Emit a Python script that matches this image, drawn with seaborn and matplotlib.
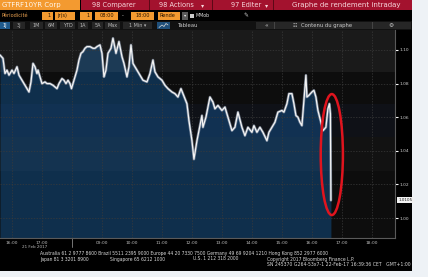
import matplotlib
matplotlib.use("Agg")
import matplotlib.pyplot as plt
import seaborn as sns
import pandas as pd
from matplotlib.patches import Rectangle, Ellipse
from matplotlib.lines import Line2D

# ---------------- data ----------------
security = "GTFRF10YR Corp"
title = "Graphe de rendement intraday"
prev_date = "21 Feb 2017"

times_prev = ["15:36", "15:42", "15:46", "15:50", "15:54", "16:00", "16:04", "16:10",
              "16:14", "16:20", "16:26", "16:30", "16:34", "16:38", "16:42", "16:46",
              "16:50", "16:52", "16:56", "17:00", "17:06", "17:10", "17:16", "17:22",
              "17:30", "17:34", "17:40", "17:44", "17:48", "17:52", "17:56", "17:59"]
yields_prev = [1.097, 1.095, 1.086, 1.088, 1.085, 1.088, 1.086, 1.090,
               1.085, 1.082, 1.079, 1.077, 1.075, 1.081, 1.092, 1.090,
               1.086, 1.088, 1.084, 1.080, 1.081, 1.080, 1.080, 1.079,
               1.077, 1.080, 1.083, 1.082, 1.080, 1.082, 1.080, 1.077]

times_today = ["08:04", "08:10", "08:14", "08:18", "08:22", "08:26", "08:30", "08:36",
               "08:42", "08:46", "08:50", "08:56", "09:00", "09:04", "09:08", "09:12",
               "09:18", "09:22", "09:28", "09:34", "09:40", "09:44", "09:50", "09:54",
               "09:58", "10:02", "10:10", "10:16", "10:22", "10:30", "10:36", "10:42",
               "10:46", "10:52", "11:00", "11:06", "11:12", "11:20", "11:26", "11:32",
               "11:38", "11:42", "11:50", "11:54", "12:00", "12:04", "12:10", "12:14",
               "12:20", "12:22", "12:28", "12:32", "12:36", "12:42", "12:46", "12:52",
               "13:00", "13:06", "13:12", "13:20", "13:26", "13:32", "13:40", "13:46",
               "13:52", "14:00", "14:04", "14:10", "14:16", "14:22", "14:30", "14:34",
               "14:40", "14:46", "14:52", "15:00", "15:04", "15:10", "15:14", "15:20",
               "15:24", "15:28", "15:32", "15:36", "15:40", "15:44", "15:48", "15:50",
               "15:54", "16:00", "16:04", "16:08", "16:12", "16:18", "16:22", "16:28",
               "16:32", "16:35", "16:37", "16:38"]
yields_today = [1.082, 1.088, 1.094, 1.098, 1.099, 1.101, 1.102, 1.102,
                1.101, 1.101, 1.102, 1.103, 1.098, 1.084, 1.088, 1.098,
                1.101, 1.107, 1.098, 1.105, 1.096, 1.092, 1.084, 1.090,
                1.103, 1.092, 1.088, 1.085, 1.082, 1.081, 1.086, 1.094,
                1.087, 1.084, 1.082, 1.079, 1.077, 1.075, 1.074, 1.072,
                1.077, 1.074, 1.068, 1.058, 1.046, 1.035, 1.046, 1.052,
                1.061, 1.054, 1.060, 1.066, 1.072, 1.069, 1.065, 1.067,
                1.064, 1.066, 1.060, 1.052, 1.054, 1.063, 1.054, 1.049,
                1.054, 1.051, 1.055, 1.051, 1.054, 1.051, 1.046, 1.051,
                1.054, 1.057, 1.063, 1.064, 1.063, 1.068, 1.074, 1.074,
                1.068, 1.061, 1.060, 1.057, 1.055, 1.070, 1.085, 1.072,
                1.073, 1.075, 1.076, 1.072, 1.064, 1.057, 1.052, 1.054,
                1.065, 1.068, 1.062, 1.0105]

y_ticks = [1.00, 1.02, 1.04, 1.06, 1.08, 1.10]
xlabels_prev = ["16:00", "17:00"]
xlabels_today = ["09:00", "10:00", "11:00", "12:00", "13:00", "14:00",
                 "15:00", "16:00", "17:00", "18:00"]

footer1 = ("Australia 61 2 9777 8600 Brazil 5511 2395 9000 Europe 44 20 7330 7500 "
           "Germany 49 69 9204 1210 Hong Kong 852 2977 6000")
footer2a = "Japan 81 3 3201 8900"
footer2b = "Singapore 65 6212 1000"
footer2c = "U.S. 1 212 318 2000"
footer2d = "Copyright 2017 Bloomberg Finance L.P."
footer3 = "SN 245370 G264-53x7-1 22-Feb-17 16:39:36 CET   GMT+1:00"


def session(t, offset):
    h, m = t.split(":")
    return int(h) + int(m) / 60 - offset


df = pd.DataFrame({
    "session": [session(t, 18) for t in times_prev] + [session(t, 8) for t in times_today],
    "yield": yields_prev + yields_today,
})

# ---------------- figure ----------------
sns.set_style("dark")
plt.rcParams["font.family"] = ["DejaVu Sans"]
W, H = 428, 277
fig = plt.figure(figsize=(W / 100, H / 100), dpi=100)
fig.patch.set_facecolor("#eef2f6")


def prect(x0, y0, x1, y1, fc, ec="none", lw=0.0, z=-1):
    fig.add_artist(Rectangle((x0 / W, 1 - y1 / H), (x1 - x0) / W, (y1 - y0) / H,
                             transform=fig.transFigure, facecolor=fc, edgecolor=ec,
                             linewidth=lw, zorder=z))


def ptext(x, y, s, size, color, ha="left", **kw):
    fig.text(x / W, 1 - y / H, s, fontsize=size, color=color, ha=ha, va="center", **kw)


# terminal background
prect(0, 0, 412, 271, "#000000", z=-2)

# row 1
prect(0, 0, 80, 10, "#f39a30")
ptext(2, 5.2, security, 5.0, "#fff6ea")
prect(81, 0, 412, 10, "#a3122e")
for sx in (149, 212, 273):
    prect(sx, 0, sx + 1, 10, "#5c0816", z=-0.5)
ptext(114, 5.2, "98 Comparer", 4.8, "#f7d6dc", ha="center")
ptext(176, 5.2, "98 Actions", 4.8, "#f7d6dc", ha="center")
ptext(203, 5.2, "\u25be", 4.5, "#f7d6dc", ha="center")
ptext(246, 5.2, "97 Editer", 4.8, "#f7d6dc", ha="center")
ptext(267, 5.2, "\u25be", 4.5, "#f7d6dc", ha="center")
ptext(346, 5.2, title, 5.0, "#f7d6dc", ha="center")

# row 2
ry = 15.5
ptext(2, ry, "Périodicité", 3.6, "#e8a050")
for (x0, x1) in [(42, 53), (55, 75), (80, 92), (95, 118), (131, 154), (158, 180)]:
    prect(x0, 12, x1, 19.5, "#f39a30")
ptext(51, ry, "1", 3.6, "#2a1500", ha="right")
ptext(57, ry, "jr(s)", 3.6, "#2a1500")
ptext(90, ry, "1", 3.6, "#2a1500", ha="right")
ptext(106.5, ry, "08:00", 3.6, "#2a1500", ha="center")
ptext(123, ry, "-", 3.6, "#dddddd", ha="center")
ptext(142.5, ry, "18:00", 3.6, "#2a1500", ha="center")
ptext(160, ry, "Rende", 3.6, "#2a1500")
prect(182, 12, 188, 19.5, "#5a5a5a")
ptext(185, ry, "\u25be", 3.2, "#eeeeee", ha="center")
prect(190, 13.5, 194, 17.5, "#cccccc")
ptext(196, ry, "MMob", 3.4, "#dddddd")
ptext(246, ry, "\u270e", 4.2, "#cccccc", ha="center")

# row 3
prect(0, 21, 412, 30, "#111111")
tabs = [("1J", 0, 10), ("3J", 13, 25), ("1M", 30, 43), ("6M", 45, 57), ("YTD", 60, 75),
        ("1A", 78, 88), ("5A", 92, 103), ("Max", 105, 120), ("1 Min \u25be", 123, 152)]
for lbl, x0, x1 in tabs:
    active = lbl == "1J"
    prect(x0, 22, x1, 29, "#1f5a8c" if active else "#262626")
    ptext((x0 + x1) / 2, 25.6, lbl, 3.5, "#ffffff" if active else "#b8b8b8", ha="center")
prect(157, 22, 170, 29, "#1f4f7a")
fig.add_artist(Line2D([159 / W, 162 / W, 164 / W, 166 / W, 168 / W],
                      [1 - 27.5 / H, 1 - 25 / H, 1 - 26.5 / H, 1 - 23.5 / H, 1 - 25 / H],
                      transform=fig.transFigure, color="#dddddd", lw=0.5))
ptext(178, 25.6, "Tableau", 3.8, "#cccccc")
prect(256, 22, 411, 29, "#262626")
ptext(266, 25.6, "\u00ab", 4.2, "#cccccc", ha="center")
prect(274, 22, 275, 29, "#444444", z=-0.5)
ptext(295, 25.6, "\u2637", 3.5, "#cccccc", ha="center")
ptext(301, 25.6, "Contenu du graphe", 3.8, "#cccccc")
prect(372, 22, 373, 29, "#444444", z=-0.5)
ptext(391, 25.6, "\u2699", 4.2, "#cccccc", ha="center")

# footer
ptext(40, 253, footer1, 3.25, "#d8d8d8")
ptext(40, 259, footer2a, 3.25, "#d8d8d8")
ptext(110, 259, footer2b, 3.25, "#d8d8d8")
ptext(193, 259, footer2c, 3.25, "#d8d8d8")
ptext(267, 259, footer2d, 3.25, "#d8d8d8")
ptext(411, 265, footer3, 3.35, "#d8d8d8", ha="right")

# ---------------- chart ----------------
ax = fig.add_axes([0, 39 / H, 395 / W, 208 / H])
ax.set_facecolor("#0d0d0d")
ymin, ymax = 0.9881, 1.1119
xmin, xmax = -2.4, 10.77
ax.set_xlim(xmin, xmax)
ax.set_ylim(ymin, ymax)

ax.fill_between(df["session"], df["yield"], ymin, color="#0f2f4c", lw=0, zorder=1)

# alternating bands
ax.axhspan(1.087, ymax, color="#ffffff", alpha=0.055, lw=0, zorder=1.5)
ax.axhspan(1.048, 1.068, color="#3a5cc0", alpha=0.06, lw=0, zorder=1.5)
ax.axhspan(1.028, 1.048, color="#ffffff", alpha=0.025, lw=0, zorder=1.5)

# grid
xt_prev = [session(t, 18) for t in xlabels_prev]
xt_today = [session(t, 8) for t in xlabels_today]
for xv in xt_prev + [0.0] + xt_today:
    ax.axvline(xv, color="#3a3a3a", lw=0.5, ls=(0, (2, 2)), zorder=1.8)
for yv in y_ticks:
    ax.axhline(yv, color="#3a3a3a", lw=0.5, ls=(0, (2, 2)), zorder=1.8)

# line
sns.lineplot(data=df, x="session", y="yield", ax=ax, color="#8d9bb0", lw=1.9,
             sort=False, estimator=None, zorder=2.5, alpha=0.7)
sns.lineplot(data=df, x="session", y="yield", ax=ax, color="#f4f4f4", lw=0.9,
             sort=False, estimator=None, zorder=3)

# axes styling
ax.set_xlabel("")
ax.set_ylabel("")
ax.yaxis.tick_right()
ax.set_yticks(y_ticks)
ax.set_yticklabels([f"{v:.2f}" for v in y_ticks])
ax.set_xticks(xt_prev + xt_today)
ax.set_xticklabels(xlabels_prev + xlabels_today)
ax.tick_params(axis="y", length=2, width=0.8, color="#ffffff", labelsize=3.2,
               labelcolor="#cccccc", pad=1.5, right=True, left=False)
ax.tick_params(axis="x", length=1.5, width=0.6, color="#bbbbbb", labelsize=3.2,
               labelcolor="#bbbbbb", pad=1.0)
ax.grid(False)
for s in ("top", "left"):
    ax.spines[s].set_visible(False)
for s in ("right", "bottom"):
    ax.spines[s].set_visible(True)
    ax.spines[s].set_color("#5a5a5a")
    ax.spines[s].set_linewidth(0.8)

ax.annotate(prev_date, xy=(xt_prev[1] - 0.25, 0), xycoords=("data", "axes fraction"),
            xytext=(0, -6.5), textcoords="offset points", fontsize=3.0,
            color="#bbbbbb", ha="center", va="center", annotation_clip=False)
ax.plot([0, 0], [0, -0.045], transform=ax.get_xaxis_transform(), clip_on=False,
        color="#888888", lw=0.6)

# current value label
last_t = df["session"].iloc[-1]
last_y = df["yield"].iloc[-1]
prev_y = df["yield"].iloc[-2]
ax.annotate(f"{last_y:.4f}", xy=(1, last_y), xycoords=("axes fraction", "data"),
            xytext=(2.5, 0), textcoords="offset points", fontsize=3.0, color="#222222",
            ha="left", va="center", annotation_clip=False,
            bbox=dict(boxstyle="square,pad=0.25", fc="#f2f2f2", ec="none"))

# red highlight ellipse
ax.add_patch(Ellipse((last_t + 0.03, (prev_y + last_y) / 2 + 0.0015), 0.74, 0.072,
                     fill=False, ec="#e0141e", lw=1.8, zorder=6, clip_on=False))

fig.savefig("out.png", dpi=100, facecolor=fig.get_facecolor())
